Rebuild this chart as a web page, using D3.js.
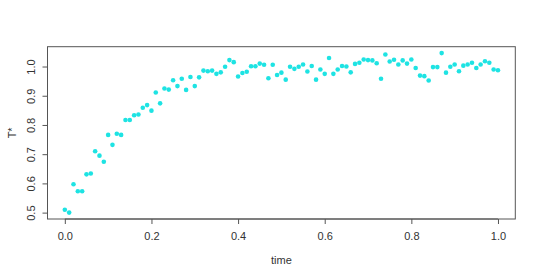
<!DOCTYPE html>
<html>
<head>
<meta charset="utf-8">
<script src="https://cdn.jsdelivr.net/npm/d3@7"></script>
<style>
  body { margin: 0; background: #fff; }
  text { font-family: "Liberation Sans", Arial, sans-serif; fill: #333; }
</style>
</head>
<body>
<svg id="chart" width="540" height="278"></svg>
<script>
// T* values at time = 0, 0.01, ..., 1.00
var tStar = [
  0.510, 0.500, 0.597, 0.573, 0.573, 0.631, 0.634, 0.710, 0.695, 0.674,
  0.766, 0.732, 0.770, 0.766, 0.817, 0.817, 0.833, 0.836, 0.859, 0.868,
  0.849, 0.911, 0.874, 0.925, 0.921, 0.953, 0.933, 0.958, 0.920, 0.964,
  0.933, 0.963, 0.986, 0.984, 0.986, 0.975, 0.980, 0.999, 1.022, 1.015,
  0.966, 0.978, 0.982, 1.001, 1.001, 1.010, 1.006, 0.960, 1.006, 0.971,
  0.979, 0.955, 0.999, 0.992, 0.999, 1.007, 0.983, 1.002, 0.955, 0.990,
  0.975, 1.029, 0.975, 0.990, 1.002, 1.000, 0.980, 1.009, 1.013, 1.024,
  1.022, 1.021, 1.011, 0.958, 1.041, 1.017, 1.023, 1.007, 1.021, 1.010,
  1.024, 0.995, 0.969, 0.967, 0.952, 0.998, 0.998, 1.046, 0.979, 0.999,
  1.007, 0.984, 1.003, 1.007, 1.013, 0.995, 1.007, 1.018, 1.013, 0.990,
  0.987
];
var time = tStar.map(function(d, i) { return i / 100; });
var xTicks = [0, 0.2, 0.4, 0.6, 0.8, 1.0];
var yTicks = [0.5, 0.6, 0.7, 0.8, 0.9, 1.0];

var svg = d3.select("#chart");
// plot box edges (avoid the name "top", it is window.top)
var boxL = 47.5, boxR = 515.3, boxT = 46.7, boxB = 219;

// R style 4% padding on both axes
var yExt = d3.extent(tStar);
var yPad = (yExt[1] - yExt[0]) * 0.04;
var x = d3.scaleLinear().domain([-0.04, 1.04]).range([boxL, boxR]);
var y = d3.scaleLinear().domain([yExt[0] - yPad, yExt[1] + yPad]).range([boxB, boxT]);

// x axis
var xAxis = svg.append("g")
  .attr("transform", "translate(0," + boxB + ")")
  .call(d3.axisBottom(x).tickValues(xTicks).tickSize(5).tickPadding(8)
    .tickFormat(d3.format(".1f")));
xAxis.select(".domain").attr("d", "M" + x(0) + ",0H" + x(1)).attr("stroke", "#555");
xAxis.selectAll(".tick line").attr("stroke", "#555");
xAxis.selectAll("text").style("font-size", "11px").style("fill", "#333");

// y axis, labels rotated like base R
var yAxis = svg.append("g")
  .attr("transform", "translate(" + boxL + ",0)")
  .call(d3.axisLeft(y).tickValues(yTicks).tickSize(5).tickFormat(d3.format(".1f")));
yAxis.select(".domain").attr("d", "M0," + y(0.5) + "V" + y(1.0)).attr("stroke", "#555");
yAxis.selectAll(".tick line").attr("stroke", "#555");
yAxis.selectAll("text")
  .attr("x", null)
  .attr("transform", "translate(-16,0) rotate(-90)")
  .attr("text-anchor", "middle")
  .attr("dy", "0.35em")
  .style("font-size", "11px").style("fill", "#333");

// plot box
svg.append("rect")
  .attr("x", boxL).attr("y", boxT)
  .attr("width", boxR - boxL).attr("height", boxB - boxT)
  .attr("fill", "none").attr("stroke", "#555").attr("stroke-width", 1);

// axis titles
svg.append("text")
  .attr("x", (boxL + boxR) / 2).attr("y", 264)
  .attr("text-anchor", "middle").style("font-size", "11px")
  .text("time");
svg.append("text")
  .attr("transform", "translate(12," + ((boxT + boxB) / 2) + ") rotate(-90)")
  .attr("text-anchor", "middle").attr("dy", "0.35em").style("font-size", "11px")
  .text("T*");

// points
svg.append("g").selectAll("circle")
  .data(tStar)
  .join("circle")
  .attr("cx", function(d, i) { return x(time[i]); })
  .attr("cy", function(d) { return y(d); })
  .attr("r", 2.3)
  .attr("fill", "#1ee3e3");
</script>
</body>
</html>
